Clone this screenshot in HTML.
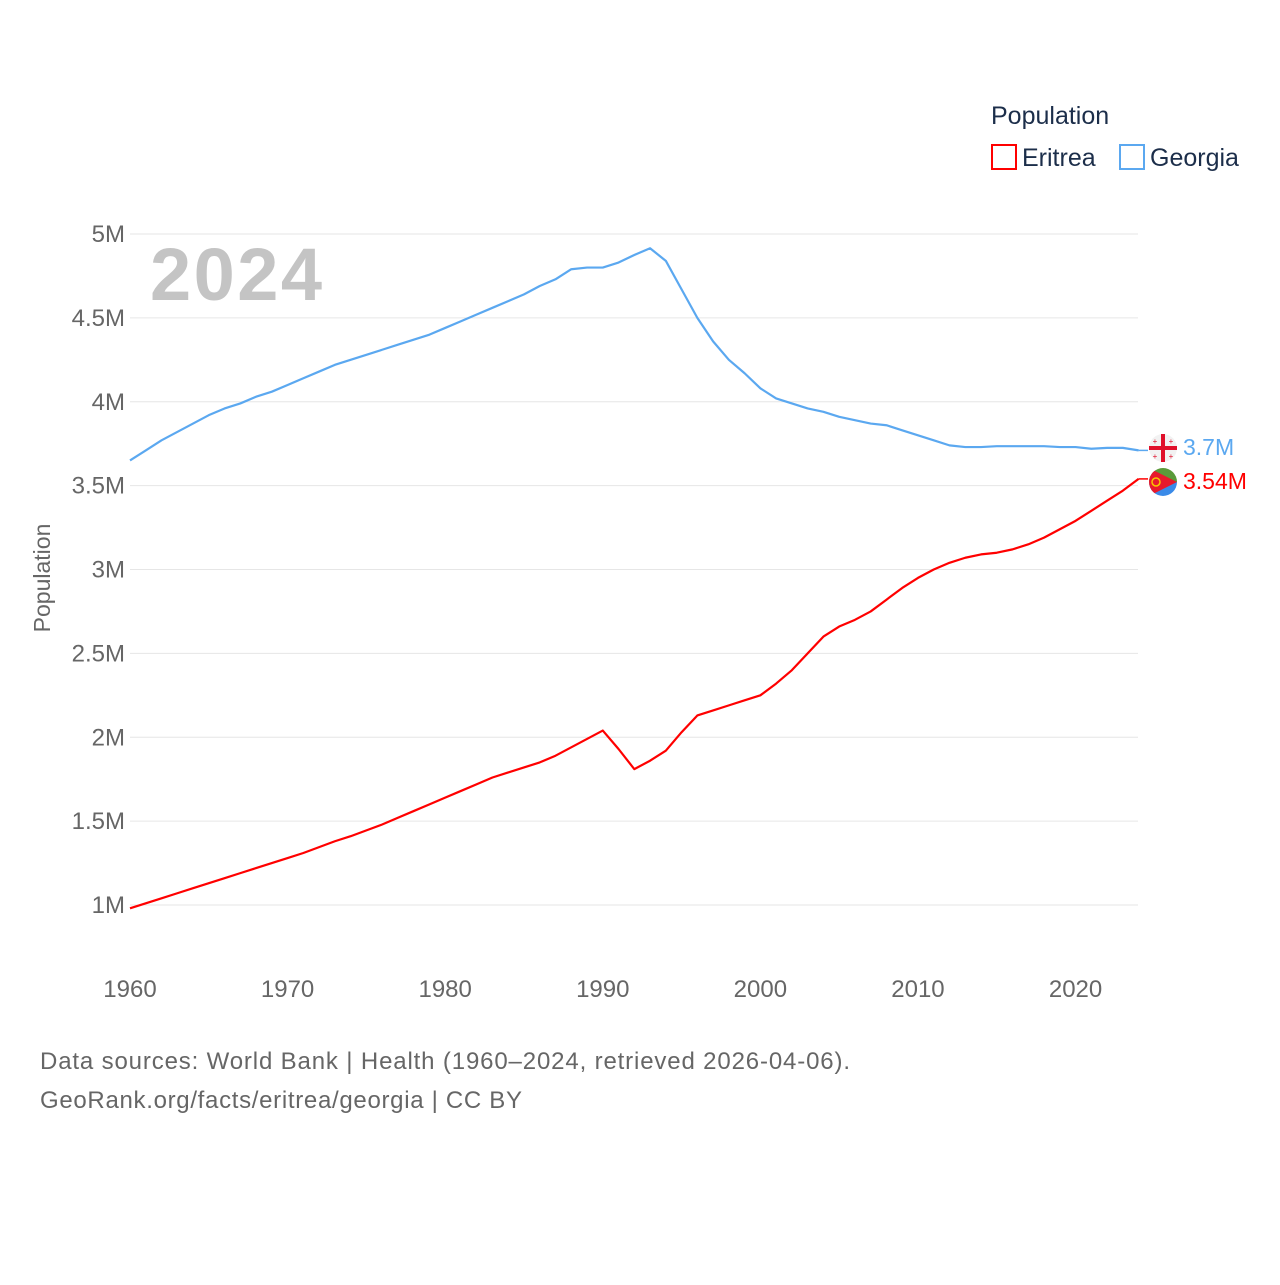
<!DOCTYPE html>
<html><head><meta charset="utf-8"><style>
body{margin:0;background:#fff;width:1280px;height:1280px;overflow:hidden;font-family:"Liberation Sans",sans-serif}
svg text{font-family:"Liberation Sans",sans-serif}
</style></head><body>
<svg id="chart" width="1280" height="1280" xmlns="http://www.w3.org/2000/svg">
<g id="grid"></g>
<g id="ticks"></g>
<text x="150" y="300" font-size="74" font-weight="bold" fill="#c4c4c4" textLength="172">2024</text>
<text transform="translate(50,578) rotate(-90)" text-anchor="middle" font-size="23" fill="#666">Population</text>
<g>
<text x="991" y="124" font-size="25" fill="#1c2e4a">Population</text>
<g><rect x="992" y="145" width="24" height="24" fill="none" stroke="#f00" stroke-width="2"/><text x="1022" y="166" font-size="25" fill="#1c2e4a">Eritrea</text></g>
<g><rect x="1120" y="145" width="24" height="24" fill="none" stroke="#5ba8f0" stroke-width="2"/><text x="1150" y="166" font-size="25" fill="#1c2e4a">Georgia</text></g>
</g>
<g id="series"></g>
<g>
<circle cx="1163" cy="448" r="14" fill="#f2f2f2"/>
<rect x="1149" y="446" width="28" height="4" fill="#e0102a"/><rect x="1161" y="434" width="4" height="28" fill="#e0102a"/>
<text x="1155" y="444" font-size="8" fill="#e0102a" text-anchor="middle">+</text><text x="1171" y="444" font-size="8" fill="#e0102a" text-anchor="middle">+</text>
<text x="1155" y="459" font-size="8" fill="#e0102a" text-anchor="middle">+</text><text x="1171" y="459" font-size="8" fill="#e0102a" text-anchor="middle">+</text>
</g>
<g>
<clipPath id="ec"><circle cx="1163" cy="482" r="14"/></clipPath>
<g clip-path="url(#ec)"><rect x="1149" y="468" width="28" height="14" fill="#5a9a3a"/><rect x="1149" y="482" width="28" height="14" fill="#3a8ae8"/><polygon points="1149,468 1177,482 1149,496" fill="#e8192c"/><circle cx="1156" cy="482" r="4" fill="none" stroke="#f7c800" stroke-width="1.5"/></g>
</g>
<text x="1183" y="455" font-size="23" fill="#5ba8f0">3.7M</text>
<text x="1183" y="489" font-size="23" fill="#f00">3.54M</text>
<text x="40" y="1069" font-size="24" fill="#666" textLength="810">Data sources: World Bank | Health (1960–2024, retrieved 2026-04-06).</text>
<text x="40" y="1108" font-size="24" fill="#666" textLength="482">GeoRank.org/facts/eritrea/georgia | CC BY</text>
</svg>
<script>
const years=[];for(let y=1960;y<=2024;y++)years.push(y);
const eritrea=[0.98,1.01,1.04,1.07,1.10,1.13,1.16,1.19,1.22,1.25,1.28,1.31,1.345,1.38,1.41,1.445,1.48,1.52,1.56,1.60,1.64,1.68,1.72,1.76,1.79,1.82,1.85,1.89,1.94,1.99,2.04,1.93,1.81,1.86,1.92,2.03,2.13,2.16,2.19,2.22,2.25,2.32,2.40,2.50,2.60,2.66,2.70,2.75,2.82,2.89,2.95,3.00,3.04,3.07,3.09,3.10,3.12,3.15,3.19,3.24,3.29,3.35,3.41,3.47,3.54];
const georgia=[3.65,3.71,3.77,3.82,3.87,3.92,3.96,3.99,4.03,4.06,4.10,4.14,4.18,4.22,4.25,4.28,4.31,4.34,4.37,4.40,4.44,4.48,4.52,4.56,4.60,4.64,4.69,4.73,4.79,4.80,4.80,4.83,4.875,4.915,4.84,4.67,4.50,4.36,4.25,4.17,4.08,4.02,3.99,3.96,3.94,3.91,3.89,3.87,3.86,3.83,3.80,3.77,3.74,3.73,3.73,3.735,3.735,3.735,3.735,3.73,3.73,3.72,3.725,3.725,3.71];
const yTicks=[1,1.5,2,2.5,3,3.5,4,4.5,5];
const yTickLabels=["1M","1.5M","2M","2.5M","3M","3.5M","4M","4.5M","5M"];
const xTicks=[1960,1970,1980,1990,2000,2010,2020];
const X=y=>130+(y-1960)*(1138.6-130)/64;
const Y=v=>905-(v-1)*(905-234)/4;
const NS="http://www.w3.org/2000/svg";
const grid=document.getElementById('grid'),ticks=document.getElementById('ticks'),series=document.getElementById('series');
yTicks.forEach((t,i)=>{
 const l=document.createElementNS(NS,'line');
 l.setAttribute('x1',130);l.setAttribute('x2',1138);l.setAttribute('y1',Y(t));l.setAttribute('y2',Y(t));
 l.setAttribute('stroke','#e6e6e6');l.setAttribute('stroke-width','1');
 
 
 grid.appendChild(l);
 const tx=document.createElementNS(NS,'text');
 tx.setAttribute('x',125);tx.setAttribute('y',Y(t)+8);tx.setAttribute('text-anchor','end');
 tx.setAttribute('font-size','24');tx.setAttribute('fill','#666');tx.textContent=yTickLabels[i];
 
 
 ticks.appendChild(tx);
});
xTicks.forEach(t=>{
 const tx=document.createElementNS(NS,'text');
 tx.setAttribute('x',X(t));tx.setAttribute('y',997);tx.setAttribute('text-anchor','middle');
 tx.setAttribute('font-size','24');tx.setAttribute('fill','#666');tx.textContent=t;
 
 
 ticks.appendChild(tx);
});
function line(vals,color,name){
 const p=document.createElementNS(NS,'polyline');
 p.setAttribute('points',vals.map((v,i)=>X(years[i])+','+Y(v)).join(' '));
 p.setAttribute('fill','none');p.setAttribute('stroke',color);p.setAttribute('stroke-width','2.2');
 p.setAttribute('stroke-linejoin','round');
 
 
 series.appendChild(p);
 const c=document.createElementNS(NS,'line');
 const ly=Y(vals[vals.length-1]);
 c.setAttribute('x1',X(2024));c.setAttribute('x2',1148);c.setAttribute('y1',ly);c.setAttribute('y2',ly);
 c.setAttribute('stroke',color);c.setAttribute('stroke-width','1.5');
 
 
 series.appendChild(c);
}
line(georgia,'#5ba8f0','line-georgia');
line(eritrea,'#f00','line-eritrea');
</script>
</body></html>
